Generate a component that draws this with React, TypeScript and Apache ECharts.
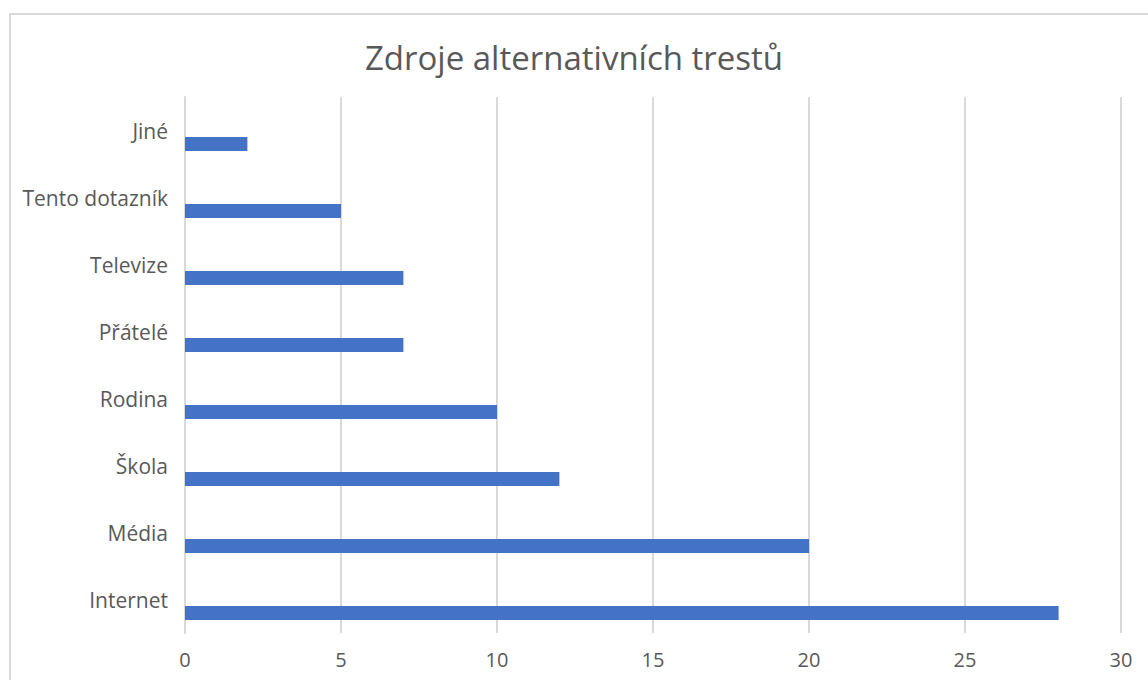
import React, { useEffect, useRef } from "react";
import * as echarts from "echarts";

const categories = ["Internet", "Média", "Škola", "Rodina", "Přátelé", "Televize", "Tento dotazník", "Jiné"];
const values = [28, 20, 12, 10, 7, 7, 5, 2];
const emptyValues = [null, null, null, null, null, null, null, null];
const title = "Zdroje alternativních trestů";

export default function App() {
  const ref = useRef<HTMLDivElement>(null);
  useEffect(() => {
    document.body.style.margin = "0";
    const chart = echarts.init(ref.current!, null, { renderer: "svg" });
    chart.setOption({
      animation: false,
      backgroundColor: "#ffffff",
      title: {
        text: title,
        left: "center",
        top: 36,
        textStyle: { fontFamily: "Open Sans", fontSize: 33, fontWeight: "normal", color: "#595959" },
      },
      graphic: [
        {
          type: "rect",
          shape: { x: 10, y: 14, width: 1300, height: 900 },
          style: { fill: "none", stroke: "#d9d9d9", lineWidth: 2 },
          silent: true,
        },
      ],
      grid: { left: 185, right: 27, top: 97, bottom: 47, containLabel: false },
      xAxis: {
        type: "value",
        min: 0,
        max: 30,
        interval: 5,
        axisLine: { show: false },
        axisTick: { show: false },
        axisLabel: { fontFamily: "Open Sans", fontSize: 20, color: "#595959", margin: 16 },
        splitLine: { lineStyle: { color: "#d9d9d9", width: 2 } },
      },
      yAxis: {
        type: "category",
        data: categories,
        axisLine: { show: true, lineStyle: { color: "#d9d9d9", width: 2 } },
        axisTick: { show: false },
        axisLabel: { fontFamily: "Open Sans", fontSize: 21, color: "#595959", margin: 17 },
      },
      series: [
        {
          type: "bar",
          data: emptyValues,
          barWidth: 14,
          barGap: "93%",
          itemStyle: { color: "#ED7D31" },
        },
        {
          type: "bar",
          data: values,
          barWidth: 14,
          barGap: "93%",
          itemStyle: { color: "#4472C4" },
        },
      ],
    });
    return () => chart.dispose();
  }, []);
  return <div ref={ref} style={{ width: 1148, height: 680 }} />;
}
